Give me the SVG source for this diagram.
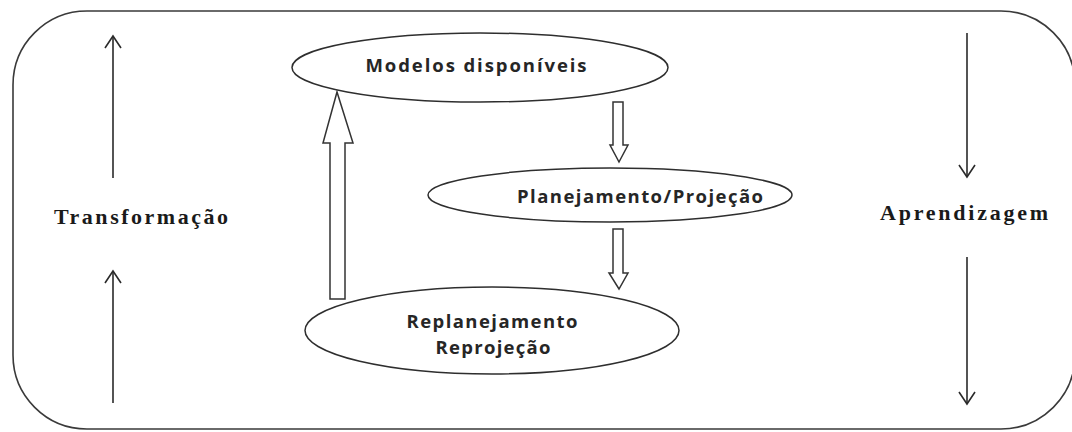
<svg xmlns="http://www.w3.org/2000/svg" width="1072" height="432" viewBox="0 0 1072 432">
<defs>
<style>
.frame{fill:none;stroke:#3a3a3a;stroke-width:1.6}
.node ellipse{fill:#fff;stroke:#2e2e2e;stroke-width:1.5}
.ntext{font-family:"Open Sans",Lato,"Liberation Sans",sans-serif;font-weight:bold;font-size:18.5px;fill:#262626;text-anchor:middle}
.side{font-family:"Liberation Serif","DejaVu Serif",serif;font-weight:bold;font-size:22px;fill:#1a1a1a}
.line{fill:none;stroke:#2a2a2a;stroke-width:1.6}
.hollow{fill:#fff;stroke:#333;stroke-width:1.5;stroke-linejoin:miter}
</style>
<marker id="open" viewBox="0 0 20 20" refX="14" refY="10" markerWidth="20" markerHeight="20" markerUnits="userSpaceOnUse" orient="auto">
<path d="M2,2 L14,10 L2,18" fill="none" stroke="#2a2a2a" stroke-width="1.6"/>
</marker>
</defs>
<rect width="1072" height="432" fill="#fff"/>
<rect class="frame" x="13" y="11" width="1062" height="418" rx="74" ry="74"/>

<g id="connectors">
<line class="line" x1="113" y1="178" x2="113" y2="36" marker-end="url(#open)"/>
<line class="line" x1="113" y1="403" x2="113" y2="271" marker-end="url(#open)"/>
<line class="line" x1="967" y1="33" x2="967" y2="177" marker-end="url(#open)"/>
<line class="line" x1="967" y1="257" x2="967" y2="404" marker-end="url(#open)"/>
<path class="hollow" d="M330,299 L330,143 L323,143 L337,92 L353,143 L345,143 L345,299 Z"/>
<path class="hollow" d="M613,102 L623,102 L623,145 L628,145 L619,162 L610,145 L613,145 Z"/>
<path class="hollow" d="M613,229 L623,229 L623,273 L628,273 L619,289 L609,273 L613,273 Z"/>
</g>

<g id="node-modelos" class="node">
<ellipse cx="480" cy="67.5" rx="188" ry="34.5"/>
<text class="ntext" x="476" y="72" textLength="221" lengthAdjust="spacing">Modelos disponíveis</text>
</g>
<g id="node-planejamento" class="node">
<ellipse cx="610" cy="195" rx="182" ry="27"/>
<text class="ntext" x="640" y="203" textLength="246" lengthAdjust="spacing">Planejamento/Projeção</text>
</g>
<g id="node-replanejamento" class="node">
<ellipse cx="492" cy="330.5" rx="187" ry="43.5"/>
<text class="ntext" x="492" y="328" textLength="171" lengthAdjust="spacing">Replanejamento</text>
<text class="ntext" x="493" y="354" textLength="115" lengthAdjust="spacing">Reprojeção</text>
</g>
<g id="label-transformacao">
<text class="side" x="54" y="224" textLength="174" lengthAdjust="spacing">Transformação</text>
</g>
<g id="label-aprendizagem">
<text class="side" x="880" y="220" textLength="168" lengthAdjust="spacing">Aprendizagem</text>
</g>
</svg>
